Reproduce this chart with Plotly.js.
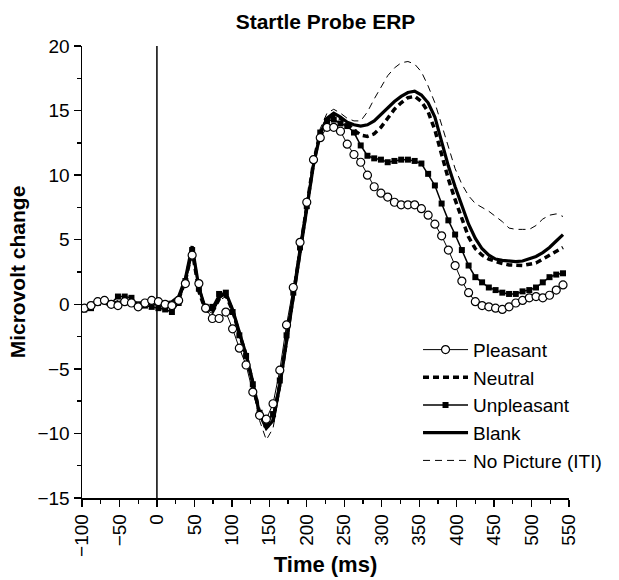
<!DOCTYPE html>
<html>
<head>
<meta charset="utf-8">
<script src="https://cdn.plot.ly/plotly-3.0.1.min.js"></script>
<style>html,body{margin:0;padding:0;background:#fff;}#chart{width:619px;height:580px;}</style>
</head>
<body>
<div id="chart"></div>
<script>
// Time axis (ms) of the sampled points
const timeMs = [-97,-88,-79,-70,-61,-52,-43,-34,-25,-16,-7,2,11,20,29,38,47,56,65,74,83,92,101,110,119,128,137,146,155,164,173,182,191,200,209,218,227,236,245,254,263,272,281,290,299,308,317,326,335,344,353,362,371,380,389,398,407,416,425,434,443,452,461,470,479,488,497,506,515,524,533,542];

const pleasant = [-0.3,-0.1,0.2,0.3,0.0,-0.1,0.2,0.1,-0.2,0.1,0.3,0.2,0.0,-0.1,0.3,1.6,3.8,1.6,-0.3,-1.1,-1.1,-0.6,-1.9,-3.4,-4.7,-6.8,-8.6,-8.9,-7.7,-5.1,-1.6,1.3,4.8,7.9,11.2,12.9,13.7,13.7,13.4,12.4,11.6,11.0,10.0,9.1,8.6,8.3,7.9,7.7,7.7,7.7,7.4,6.9,6.2,5.3,4.2,3.0,1.8,0.9,0.2,-0.1,-0.2,-0.3,-0.4,-0.2,0.1,0.3,0.5,0.6,0.5,0.7,1.1,1.5];

const neutral = [-0.2,-0.2,0.1,0.2,0.0,0.2,0.1,0.0,-0.1,0.0,0.1,0.0,-0.2,0.0,0.4,1.8,4.2,1.0,-0.5,-0.6,0.4,0.7,-0.5,-2.3,-3.9,-6.1,-8.4,-9.5,-9.0,-6.2,-2.8,0.6,4.1,7.5,11.0,13.3,14.3,14.6,14.4,14.0,13.5,13.1,13.0,13.2,13.7,14.4,15.1,15.6,16.0,16.1,15.7,14.9,13.5,11.6,9.7,8.1,6.6,5.2,4.3,3.8,3.5,3.3,3.15,3.05,3.0,3.0,3.1,3.2,3.5,3.8,4.1,4.4];

const unpleasant = [-0.4,-0.3,0.1,0.3,0.1,0.6,0.6,0.5,0.0,-0.1,-0.2,-0.3,-0.4,-0.6,0.1,1.8,4.2,1.2,-0.2,-0.2,0.8,0.9,-0.6,-2.4,-4.0,-6.2,-8.4,-9.3,-8.5,-5.9,-2.4,0.9,4.4,7.6,11.2,13.3,14.2,14.3,14.0,13.8,13.3,12.3,11.5,11.3,11.2,11.0,11.1,11.2,11.2,11.1,10.9,10.1,9.2,7.8,6.5,5.4,4.2,3.0,2.1,1.7,1.3,1.1,0.9,0.8,0.8,1.0,1.1,1.3,1.7,2.1,2.3,2.4];

const blank = [-0.3,0.0,0.3,0.1,-0.1,0.1,0.3,0.2,0.0,0.1,0.2,0.3,0.1,0.2,0.6,2.0,4.5,1.3,-0.4,-0.4,0.5,0.9,-0.4,-2.2,-3.9,-6.0,-8.5,-9.6,-9.0,-6.3,-2.9,0.4,3.9,7.3,10.8,13.2,14.4,14.8,14.5,14.1,13.9,13.8,13.9,14.2,14.7,15.2,15.7,16.1,16.4,16.5,16.2,15.6,14.5,12.6,10.7,9.1,7.6,6.2,5.1,4.3,3.8,3.5,3.4,3.35,3.3,3.35,3.5,3.7,4.0,4.4,4.9,5.4];

const noPicture = [-0.3,-0.1,0.0,0.2,0.1,0.0,0.1,0.2,0.1,0.0,0.1,0.1,0.0,0.1,0.4,1.6,3.9,1.1,-0.4,-0.7,0.3,0.6,-0.6,-2.5,-4.2,-6.5,-9.0,-10.5,-9.6,-6.6,-3.1,0.3,3.9,7.4,11.0,13.6,14.8,15.1,14.8,14.4,14.2,14.2,14.9,15.9,16.8,17.7,18.3,18.7,18.8,18.6,18.0,16.9,15.6,13.9,12.2,10.5,9.3,8.4,7.8,7.5,7.2,6.8,6.4,5.9,5.8,5.8,5.8,6.1,6.6,6.9,7.0,6.8];

const seriesNames = ["Pleasant","Neutral","Unpleasant","Blank","No Picture (ITI)"];
const xTickVals = [-100,-50,0,50,100,150,200,250,300,350,400,450,500,550];
const yTickVals = [-15,-10,-5,0,5,10,15,20];

const FONT = "Arial, 'Liberation Sans', sans-serif";

const traces = [
  {x: timeMs, y: noPicture, name: seriesNames[4], mode: "lines", legendgroup: "e", legendrank: 5,
   line: {color: "#000", width: 1, dash: "7px,5px"}},
  {x: timeMs, y: blank, name: seriesNames[3], mode: "lines", legendgroup: "d", legendrank: 4,
   line: {color: "#000", width: 3.2}},
  {x: timeMs, y: neutral, name: seriesNames[1], mode: "lines", legendgroup: "b", legendrank: 2,
   line: {color: "#000", width: 3.5, dash: "6px,4px"}},
  {x: timeMs, y: unpleasant, name: seriesNames[2], mode: "lines+markers", legendgroup: "c", legendrank: 3,
   line: {color: "#000", width: 1.5},
   marker: {symbol: "square", size: 6, color: "#000"}},
  {x: timeMs, y: pleasant, name: seriesNames[0], mode: "lines+markers", legendgroup: "a", legendrank: 1,
   line: {color: "#000", width: 1},
   marker: {symbol: "circle", size: 8, color: "#fff", line: {color: "#000", width: 1.2}}}
];

const layout = {
  width: 619, height: 580,
  margin: {l: 82, r: 46, t: 46, b: 82},
  paper_bgcolor: "#fff", plot_bgcolor: "#fff",
  font: {family: FONT, color: "#000", size: 18},
  showlegend: true,
  title: {text: "<b>Startle Probe ERP</b>", font: {family: FONT, size: 21, color: "#000"},
          xref: "paper", x: 0.5, xanchor: "center", y: 0.962, yanchor: "middle"},
  xaxis: {
    range: [-100, 550], tickvals: xTickVals, tickangle: -90,
    ticks: "outside", ticklen: 7, tickwidth: 1.3, tickcolor: "#000",
    minor: {dtick: 25, tick0: 0, ticks: "outside", ticklen: 4, tickwidth: 1.3, tickcolor: "#000", showgrid: false},
    showline: true, linecolor: "#000", linewidth: 1.5,
    showgrid: false, zeroline: false,
    tickfont: {family: FONT, size: 19, color: "#000"},
    title: {text: "<b>Time (ms)</b>", font: {family: FONT, size: 22, color: "#000"}, standoff: 0}
  },
  yaxis: {
    range: [-15, 20], tickvals: yTickVals,
    ticks: "outside", ticklen: 7, tickwidth: 1.3, tickcolor: "#000",
    minor: {dtick: 2.5, tick0: 0, ticks: "outside", ticklen: 4, tickwidth: 1.3, tickcolor: "#000", showgrid: false},
    showline: true, linecolor: "#000", linewidth: 1.5,
    showgrid: false, zeroline: false,
    tickfont: {family: FONT, size: 19, color: "#000"},
    title: {text: "<b>Microvolt change</b>", font: {family: FONT, size: 21, color: "#000"}, standoff: 6}
  },
  legend: {
    x: 0.69, y: 0.37, xanchor: "left", yanchor: "top",
    bgcolor: "rgba(0,0,0,0)", borderwidth: 0,
    font: {family: FONT, size: 19, color: "#000"},
    traceorder: "normal", tracegroupgap: 5, itemwidth: 45
  },
  shapes: [
    {type: "line", xref: "x", yref: "paper", x0: 0, x1: 0, y0: 0, y1: 1,
     line: {color: "#000", width: 1.5}, layer: "below"}
  ]
};

Plotly.newPlot("chart", traces, layout, {displayModeBar: false, staticPlot: true});
</script>
</body>
</html>
